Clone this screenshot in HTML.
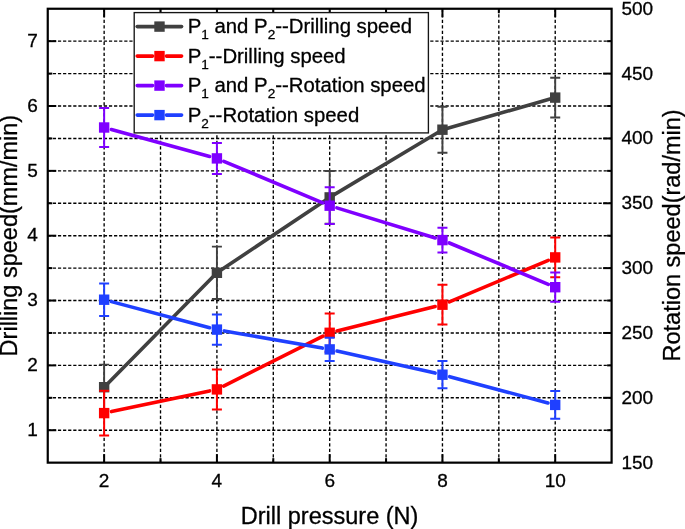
<!DOCTYPE html>
<html><head><meta charset="utf-8"><title>Chart</title>
<style>
html,body{margin:0;padding:0;background:#fff;}
body{width:685px;height:529px;overflow:hidden;position:relative;font-family:"Liberation Sans",sans-serif;}
</style></head><body>
<svg width="685" height="529" viewBox="0 0 685 529" style="position:absolute;left:0;top:0;display:block;will-change:transform" font-family="Liberation Sans, sans-serif"><style>text{stroke:#000;stroke-width:0.3px;fill:#000}</style>
<rect x="0" y="0" width="685" height="529" fill="#fff"/>
<g id="grid">
<line x1="47.75" y1="430.23" x2="611.60" y2="430.23" stroke="#000" stroke-width="1.4" stroke-dasharray="3.2 1.9" fill="none"/>
<line x1="47.75" y1="397.81" x2="611.60" y2="397.81" stroke="#000" stroke-width="1.4" stroke-dasharray="3.2 1.9" fill="none"/>
<line x1="47.75" y1="365.39" x2="611.60" y2="365.39" stroke="#000" stroke-width="1.4" stroke-dasharray="3.2 1.9" fill="none"/>
<line x1="47.75" y1="332.96" x2="611.60" y2="332.96" stroke="#000" stroke-width="1.4" stroke-dasharray="3.2 1.9" fill="none"/>
<line x1="47.75" y1="300.54" x2="611.60" y2="300.54" stroke="#000" stroke-width="1.4" stroke-dasharray="3.2 1.9" fill="none"/>
<line x1="47.75" y1="268.12" x2="611.60" y2="268.12" stroke="#000" stroke-width="1.4" stroke-dasharray="3.2 1.9" fill="none"/>
<line x1="47.75" y1="235.70" x2="611.60" y2="235.70" stroke="#000" stroke-width="1.4" stroke-dasharray="3.2 1.9" fill="none"/>
<line x1="47.75" y1="203.28" x2="611.60" y2="203.28" stroke="#000" stroke-width="1.4" stroke-dasharray="3.2 1.9" fill="none"/>
<line x1="47.75" y1="170.86" x2="611.60" y2="170.86" stroke="#000" stroke-width="1.4" stroke-dasharray="3.2 1.9" fill="none"/>
<line x1="47.75" y1="138.44" x2="611.60" y2="138.44" stroke="#000" stroke-width="1.4" stroke-dasharray="3.2 1.9" fill="none"/>
<line x1="47.75" y1="106.01" x2="611.60" y2="106.01" stroke="#000" stroke-width="1.4" stroke-dasharray="3.2 1.9" fill="none"/>
<line x1="47.75" y1="73.59" x2="611.60" y2="73.59" stroke="#000" stroke-width="1.4" stroke-dasharray="3.2 1.9" fill="none"/>
<line x1="47.75" y1="41.17" x2="611.60" y2="41.17" stroke="#000" stroke-width="1.4" stroke-dasharray="3.2 1.9" fill="none"/>
<line x1="104.14" y1="8.75" x2="104.14" y2="462.65" stroke="#000" stroke-width="1.35" stroke-dasharray="3.2 2.3" fill="none"/>
<line x1="160.52" y1="8.75" x2="160.52" y2="462.65" stroke="#000" stroke-width="1.35" stroke-dasharray="3.2 2.3" fill="none"/>
<line x1="216.91" y1="8.75" x2="216.91" y2="462.65" stroke="#000" stroke-width="1.35" stroke-dasharray="3.2 2.3" fill="none"/>
<line x1="273.29" y1="8.75" x2="273.29" y2="462.65" stroke="#000" stroke-width="1.35" stroke-dasharray="3.2 2.3" fill="none"/>
<line x1="329.68" y1="8.75" x2="329.68" y2="462.65" stroke="#000" stroke-width="1.35" stroke-dasharray="3.2 2.3" fill="none"/>
<line x1="386.06" y1="8.75" x2="386.06" y2="462.65" stroke="#000" stroke-width="1.35" stroke-dasharray="3.2 2.3" fill="none"/>
<line x1="442.45" y1="8.75" x2="442.45" y2="462.65" stroke="#000" stroke-width="1.35" stroke-dasharray="3.2 2.3" fill="none"/>
<line x1="498.83" y1="8.75" x2="498.83" y2="462.65" stroke="#000" stroke-width="1.35" stroke-dasharray="3.2 2.3" fill="none"/>
<line x1="555.22" y1="8.75" x2="555.22" y2="462.65" stroke="#000" stroke-width="1.35" stroke-dasharray="3.2 2.3" fill="none"/>
</g>
<g id="ticks" stroke="#000" stroke-width="2" fill="none">
<line x1="47.75" y1="430.23" x2="56.25" y2="430.23"/>
<line x1="611.60" y1="430.23" x2="607.10" y2="430.23"/>
<line x1="47.75" y1="397.81" x2="52.25" y2="397.81"/>
<line x1="611.60" y1="397.81" x2="603.10" y2="397.81"/>
<line x1="47.75" y1="365.39" x2="56.25" y2="365.39"/>
<line x1="611.60" y1="365.39" x2="607.10" y2="365.39"/>
<line x1="47.75" y1="332.96" x2="52.25" y2="332.96"/>
<line x1="611.60" y1="332.96" x2="603.10" y2="332.96"/>
<line x1="47.75" y1="300.54" x2="56.25" y2="300.54"/>
<line x1="611.60" y1="300.54" x2="607.10" y2="300.54"/>
<line x1="47.75" y1="268.12" x2="52.25" y2="268.12"/>
<line x1="611.60" y1="268.12" x2="603.10" y2="268.12"/>
<line x1="47.75" y1="235.70" x2="56.25" y2="235.70"/>
<line x1="611.60" y1="235.70" x2="607.10" y2="235.70"/>
<line x1="47.75" y1="203.28" x2="52.25" y2="203.28"/>
<line x1="611.60" y1="203.28" x2="603.10" y2="203.28"/>
<line x1="47.75" y1="170.86" x2="56.25" y2="170.86"/>
<line x1="611.60" y1="170.86" x2="607.10" y2="170.86"/>
<line x1="47.75" y1="138.44" x2="52.25" y2="138.44"/>
<line x1="611.60" y1="138.44" x2="603.10" y2="138.44"/>
<line x1="47.75" y1="106.01" x2="56.25" y2="106.01"/>
<line x1="611.60" y1="106.01" x2="607.10" y2="106.01"/>
<line x1="47.75" y1="73.59" x2="52.25" y2="73.59"/>
<line x1="611.60" y1="73.59" x2="603.10" y2="73.59"/>
<line x1="47.75" y1="41.17" x2="56.25" y2="41.17"/>
<line x1="611.60" y1="41.17" x2="607.10" y2="41.17"/>
<line x1="104.14" y1="462.65" x2="104.14" y2="454.15"/>
<line x1="104.14" y1="8.75" x2="104.14" y2="17.25"/>
<line x1="160.52" y1="462.65" x2="160.52" y2="458.15"/>
<line x1="160.52" y1="8.75" x2="160.52" y2="13.25"/>
<line x1="216.91" y1="462.65" x2="216.91" y2="454.15"/>
<line x1="216.91" y1="8.75" x2="216.91" y2="17.25"/>
<line x1="273.29" y1="462.65" x2="273.29" y2="458.15"/>
<line x1="273.29" y1="8.75" x2="273.29" y2="13.25"/>
<line x1="329.68" y1="462.65" x2="329.68" y2="454.15"/>
<line x1="329.68" y1="8.75" x2="329.68" y2="17.25"/>
<line x1="386.06" y1="462.65" x2="386.06" y2="458.15"/>
<line x1="386.06" y1="8.75" x2="386.06" y2="13.25"/>
<line x1="442.45" y1="462.65" x2="442.45" y2="454.15"/>
<line x1="442.45" y1="8.75" x2="442.45" y2="17.25"/>
<line x1="498.83" y1="462.65" x2="498.83" y2="458.15"/>
<line x1="498.83" y1="8.75" x2="498.83" y2="13.25"/>
<line x1="555.22" y1="462.65" x2="555.22" y2="454.15"/>
<line x1="555.22" y1="8.75" x2="555.22" y2="17.25"/>
</g>
<g stroke="#404040" fill="#404040">
<path d="M104.14 364.60V409.80M99.14 364.60H109.14M99.14 409.80H109.14" stroke-width="1.9" fill="none"/>
<path d="M216.91 246.60V299.00M211.91 246.60H221.91M211.91 299.00H221.91" stroke-width="1.9" fill="none"/>
<path d="M329.68 171.00V223.80M324.68 171.00H334.68M324.68 223.80H334.68" stroke-width="1.9" fill="none"/>
<path d="M442.45 106.70V152.70M437.45 106.70H447.45M437.45 152.70H447.45" stroke-width="1.9" fill="none"/>
<path d="M555.22 77.70V117.50M550.22 77.70H560.22M550.22 117.50H560.22" stroke-width="1.9" fill="none"/>
<line x1="104.14" y1="387.20" x2="216.91" y2="272.80" stroke-width="3.6" stroke-linecap="round"/>
<line x1="216.91" y1="272.80" x2="329.68" y2="197.40" stroke-width="3.6" stroke-linecap="round"/>
<line x1="329.68" y1="197.40" x2="442.45" y2="129.70" stroke-width="3.6" stroke-linecap="round"/>
<line x1="442.45" y1="129.70" x2="555.22" y2="97.60" stroke-width="3.6" stroke-linecap="round"/>
<rect x="98.94" y="382.00" width="10.4" height="10.4" stroke="none"/>
<rect x="211.71" y="267.60" width="10.4" height="10.4" stroke="none"/>
<rect x="324.48" y="192.20" width="10.4" height="10.4" stroke="none"/>
<rect x="437.25" y="124.50" width="10.4" height="10.4" stroke="none"/>
<rect x="550.01" y="92.40" width="10.4" height="10.4" stroke="none"/>
</g>
<g stroke="#ff0000" fill="#ff0000">
<path d="M104.14 390.70V435.50M99.14 390.70H109.14M99.14 435.50H109.14" stroke-width="2" fill="none"/>
<path d="M216.91 369.40V409.40M211.91 369.40H221.91M211.91 409.40H221.91" stroke-width="2" fill="none"/>
<path d="M329.68 313.60V352.00M324.68 313.60H334.68M324.68 352.00H334.68" stroke-width="2" fill="none"/>
<path d="M442.45 284.80V324.60M437.45 284.80H447.45M437.45 324.60H447.45" stroke-width="2" fill="none"/>
<path d="M555.22 237.50V277.30M550.22 237.50H560.22M550.22 277.30H560.22" stroke-width="2" fill="none"/>
<line x1="111.47" y1="411.56" x2="209.57" y2="390.94" stroke-width="3.6" stroke-linecap="round"/>
<line x1="223.61" y1="386.04" x2="322.97" y2="336.16" stroke-width="3.6" stroke-linecap="round"/>
<line x1="336.95" y1="330.99" x2="435.17" y2="306.51" stroke-width="3.6" stroke-linecap="round"/>
<line x1="449.36" y1="301.80" x2="548.30" y2="260.30" stroke-width="3.6" stroke-linecap="round"/>
<rect x="98.94" y="407.90" width="10.4" height="10.4" stroke="none"/>
<rect x="211.71" y="384.20" width="10.4" height="10.4" stroke="none"/>
<rect x="324.48" y="327.60" width="10.4" height="10.4" stroke="none"/>
<rect x="437.25" y="299.50" width="10.4" height="10.4" stroke="none"/>
<rect x="550.01" y="252.20" width="10.4" height="10.4" stroke="none"/>
</g>
<g stroke="#7f00ff" fill="#7f00ff">
<path d="M104.14 107.90V147.10M99.14 107.90H109.14M99.14 147.10H109.14" stroke-width="2" fill="none"/>
<path d="M216.91 142.90V173.90M211.91 142.90H221.91M211.91 173.90H221.91" stroke-width="2" fill="none"/>
<path d="M329.68 187.30V224.10M324.68 187.30H334.68M324.68 224.10H334.68" stroke-width="2" fill="none"/>
<path d="M442.45 227.70V252.50M437.45 227.70H447.45M437.45 252.50H447.45" stroke-width="2" fill="none"/>
<path d="M555.22 272.60V301.80M550.22 272.60H560.22M550.22 301.80H560.22" stroke-width="2" fill="none"/>
<line x1="111.37" y1="129.48" x2="209.67" y2="156.42" stroke-width="3.6" stroke-linecap="round"/>
<line x1="223.82" y1="161.30" x2="322.76" y2="202.80" stroke-width="3.6" stroke-linecap="round"/>
<line x1="336.85" y1="207.89" x2="435.27" y2="237.91" stroke-width="3.6" stroke-linecap="round"/>
<line x1="449.37" y1="242.99" x2="548.29" y2="284.31" stroke-width="3.6" stroke-linecap="round"/>
<rect x="98.94" y="122.30" width="10.4" height="10.4" stroke="none"/>
<rect x="211.71" y="153.20" width="10.4" height="10.4" stroke="none"/>
<rect x="324.48" y="200.50" width="10.4" height="10.4" stroke="none"/>
<rect x="437.25" y="234.90" width="10.4" height="10.4" stroke="none"/>
<rect x="550.01" y="282.00" width="10.4" height="10.4" stroke="none"/>
</g>
<g stroke="#1f40ff" fill="#1f40ff">
<path d="M104.14 283.40V316.00M99.14 283.40H109.14M99.14 316.00H109.14" stroke-width="2" fill="none"/>
<path d="M216.91 314.40V344.80M211.91 314.40H221.91M211.91 344.80H221.91" stroke-width="2" fill="none"/>
<path d="M329.68 337.70V361.10M324.68 337.70H334.68M324.68 361.10H334.68" stroke-width="2" fill="none"/>
<path d="M442.45 361.10V388.30M437.45 361.10H447.45M437.45 388.30H447.45" stroke-width="2" fill="none"/>
<path d="M555.22 391.00V418.80M550.22 391.00H560.22M550.22 418.80H560.22" stroke-width="2" fill="none"/>
<line x1="111.38" y1="301.62" x2="209.66" y2="327.68" stroke-width="3.6" stroke-linecap="round"/>
<line x1="224.29" y1="330.90" x2="322.29" y2="348.10" stroke-width="3.6" stroke-linecap="round"/>
<line x1="336.99" y1="351.04" x2="435.13" y2="373.06" stroke-width="3.6" stroke-linecap="round"/>
<line x1="449.69" y1="376.64" x2="547.97" y2="402.96" stroke-width="3.6" stroke-linecap="round"/>
<rect x="98.94" y="294.50" width="10.4" height="10.4" stroke="none"/>
<rect x="211.71" y="324.40" width="10.4" height="10.4" stroke="none"/>
<rect x="324.48" y="344.20" width="10.4" height="10.4" stroke="none"/>
<rect x="437.25" y="369.50" width="10.4" height="10.4" stroke="none"/>
<rect x="550.01" y="399.70" width="10.4" height="10.4" stroke="none"/>
</g>
<rect x="47.75" y="8.75" width="563.85" height="453.90" fill="none" stroke="#000" stroke-width="2.2"/>
<rect x="134.2" y="12.6" width="294.20" height="120.30" fill="#fff" stroke="#151515" stroke-width="1.35"/>
<path d="M137.2 26.6H181.6" stroke="#404040" stroke-width="3.6" stroke-linecap="round" fill="none"/>
<rect x="154.30" y="21.40" width="10.4" height="10.4" fill="#404040"/>
<text x="187.7" y="33.40" font-size="20.35" fill="#000" xml:space="preserve"><tspan dy="0">P</tspan><tspan font-size="13.6" dy="6">1</tspan><tspan dy="-6"> and P</tspan><tspan font-size="13.6" dy="6">2</tspan><tspan dy="-6">--Drilling speed</tspan></text>
<path d="M137.2 56.1H152.6M166.4 56.1H181.6" stroke="#ff0000" stroke-width="3.6" stroke-linecap="round" fill="none"/>
<rect x="154.30" y="50.90" width="10.4" height="10.4" fill="#ff0000"/>
<text x="187.7" y="62.90" font-size="20.35" fill="#000" xml:space="preserve"><tspan dy="0">P</tspan><tspan font-size="13.6" dy="6">1</tspan><tspan dy="-6">--Drilling speed</tspan></text>
<path d="M137.2 85.6H152.6M166.4 85.6H181.6" stroke="#7f00ff" stroke-width="3.6" stroke-linecap="round" fill="none"/>
<rect x="154.30" y="80.40" width="10.4" height="10.4" fill="#7f00ff"/>
<text x="187.7" y="92.40" font-size="20.35" fill="#000" xml:space="preserve"><tspan dy="0">P</tspan><tspan font-size="13.6" dy="6">1</tspan><tspan dy="-6"> and P</tspan><tspan font-size="13.6" dy="6">2</tspan><tspan dy="-6">--Rotation speed</tspan></text>
<path d="M137.2 115.1H152.6M166.4 115.1H181.6" stroke="#1f40ff" stroke-width="3.6" stroke-linecap="round" fill="none"/>
<rect x="154.30" y="109.90" width="10.4" height="10.4" fill="#1f40ff"/>
<text x="187.7" y="121.90" font-size="20.35" fill="#000" xml:space="preserve"><tspan dy="0">P</tspan><tspan font-size="13.6" dy="6">2</tspan><tspan dy="-6">--Rotation speed</tspan></text>
<text x="37.8" y="435.93" font-size="19" text-anchor="end">1</text>
<text x="37.8" y="371.09" font-size="19" text-anchor="end">2</text>
<text x="37.8" y="306.24" font-size="19" text-anchor="end">3</text>
<text x="37.8" y="241.40" font-size="19" text-anchor="end">4</text>
<text x="37.8" y="176.56" font-size="19" text-anchor="end">5</text>
<text x="37.8" y="111.71" font-size="19" text-anchor="end">6</text>
<text x="37.8" y="46.87" font-size="19" text-anchor="end">7</text>
<text x="621.4" y="468.65" font-size="19">150</text>
<text x="621.4" y="403.81" font-size="19">200</text>
<text x="621.4" y="338.96" font-size="19">250</text>
<text x="621.4" y="274.12" font-size="19">300</text>
<text x="621.4" y="209.28" font-size="19">350</text>
<text x="621.4" y="144.44" font-size="19">400</text>
<text x="621.4" y="79.59" font-size="19">450</text>
<text x="621.4" y="14.75" font-size="19">500</text>
<text x="104.14" y="487.3" font-size="19" text-anchor="middle">2</text>
<text x="216.91" y="487.3" font-size="19" text-anchor="middle">4</text>
<text x="329.68" y="487.3" font-size="19" text-anchor="middle">6</text>
<text x="442.45" y="487.3" font-size="19" text-anchor="middle">8</text>
<text x="555.22" y="487.3" font-size="19" text-anchor="middle">10</text>
<text x="329.6" y="523.9" font-size="23.5" text-anchor="middle">Drill pressure (N)</text>
<text transform="translate(17.1,235.6) rotate(-90)" font-size="23.5" text-anchor="middle">Drilling speed(mm/min)</text>
<text transform="translate(679.5,235.4) rotate(-90)" font-size="23.5" text-anchor="middle">Rotation speed(rad/min)</text>
</svg>
</body></html>
